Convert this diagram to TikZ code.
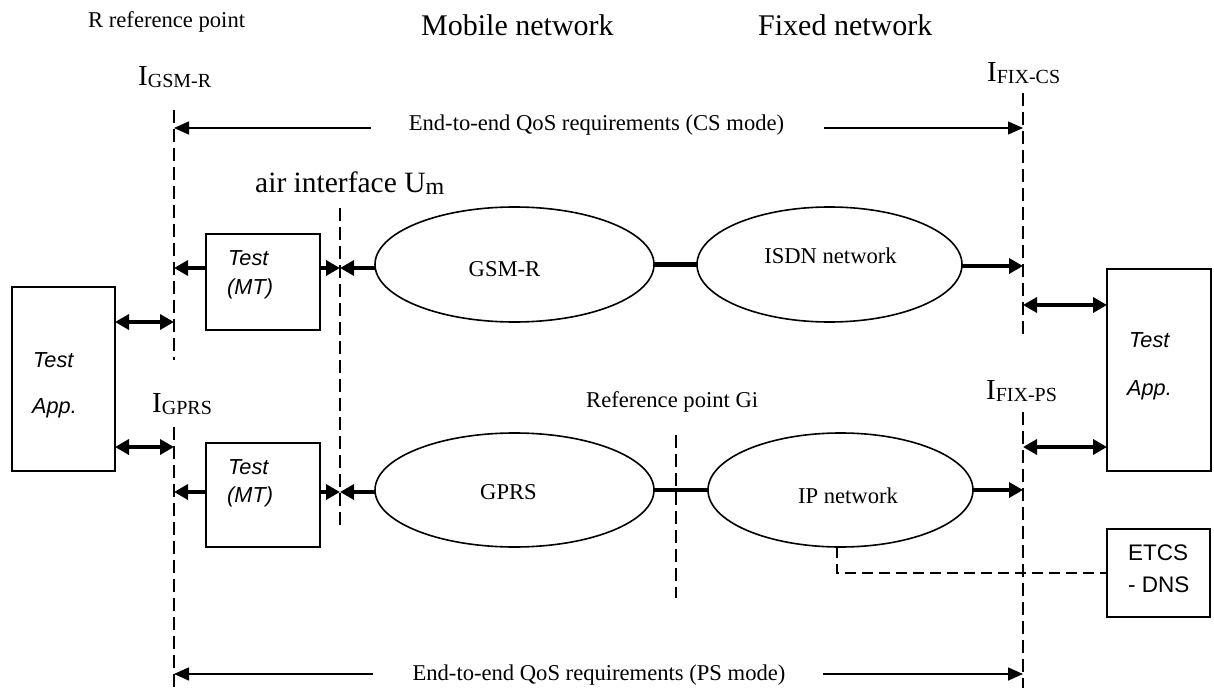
\documentclass[tikz,border=0pt]{standalone}
\usepackage{fontspec}
\setmainfont{Liberation Serif}
\setsansfont{Liberation Sans}
\usetikzlibrary{arrows.meta,shapes.geometric}
\newcommand{\ifacelabel}[1]{{\fontsize{29bp}{30bp}\selectfont I}\raisebox{-2bp}{\fontsize{20bp}{24bp}\selectfont #1}}
\begin{document}
\begin{tikzpicture}[x=1bp,y=-1bp,
  refline/.style={line width=1.4bp, dash pattern=on 13bp off 6bp},
  linkdash/.style={line width=2.2bp, dash pattern=on 11bp off 6bp},
  box/.style={draw, line width=1.7bp, rectangle, inner sep=0pt, outer sep=0pt},
  net/.style={draw, ellipse, line width=1.6bp, inner sep=0pt, outer sep=0pt},
  netlabel/.style={font=\fontsize{22.6bp}{27bp}\selectfont, inner sep=0pt},
  bigarrow/.style={line width=4.5bp, -{Triangle[length=14bp,width=15bp]}},
  bigdouble/.style={line width=4.5bp, {Triangle[length=14bp,width=15bp]}-{Triangle[length=14bp,width=15bp]}},
  thinarrow/.style={line width=1.6bp, -{Triangle[length=15bp,width=13bp]}},
  link/.style={line width=4.5bp},
  serif/.style={font=\fontsize{22.6bp}{27bp}\selectfont, inner sep=0pt},
  bigserif/.style={font=\fontsize{30bp}{36bp}\selectfont, inner sep=0pt, anchor=base west},
  sansit/.style={font=\fontsize{21.7bp}{26bp}\selectfont\sffamily\itshape, inner sep=0pt, anchor=base west},
  sansup/.style={font=\fontsize{22.5bp}{27bp}\selectfont\sffamily, inner sep=0pt, anchor=base west},
  iface/.style={inner sep=0pt, anchor=base west}
]
\fill[white] (0,0) rectangle (1214,688);
\useasboundingbox (0,0) rectangle (1214,688);

% ---- headings
\node[serif, anchor=base west] (rref) at (88,28) {R reference point};
\node[bigserif] (mobile) at (421,36) {Mobile network};
\node[bigserif] (fixed) at (758,36) {Fixed network};

% ---- interface labels
\node[iface] (lgsm) at (138,86) {\ifacelabel{GSM-R}};
\node[iface] (lgprs) at (152,412) {\ifacelabel{GPRS}};
\node[iface] (lfcs) at (987,82) {\ifacelabel{FIX-CS}};
\node[iface] (lfps) at (986,399) {\ifacelabel{FIX-PS}};
\node[iface] (lair) at (255,193) {\fontsize{29.5bp}{34bp}\selectfont air interface U\raisebox{-2bp}{\fontsize{24bp}{28bp}\selectfont m}};
\node[serif, anchor=base west] (lgi) at (586,407) {Reference point Gi};

% ---- reference (dashed) lines
\coordinate (gsmT) at (174,110);  \coordinate (gsmB) at (174,360);
\coordinate (gprT) at (174,427);  \coordinate (gprB) at (174,688);
\coordinate (airT) at (340,208);  \coordinate (airB) at (340,527);
\coordinate (giT) at (676,435);   \coordinate (giB) at (676,598);
\coordinate (fcsT) at (1023,93);  \coordinate (fcsB) at (1023,336);
\coordinate (fpsT) at (1023,412); \coordinate (fpsB) at (1023,688);
\draw[refline] (gsmT) -- (gsmB);
\draw[refline] (gprT) -- (gprB);
\draw[refline] (airT) -- (airB);
\draw[refline] (giT) -- (giB);
\draw[refline] (fcsT) -- (fcsB);
\draw[refline] (fpsT) -- (fpsB);

% ---- boxes
\node[box, minimum width=103bp, minimum height=184bp] (appL) at (63.5,379) {};
\node[box, minimum width=114bp, minimum height=96bp] (mt1) at (263,282) {};
\node[box, minimum width=114bp, minimum height=104bp] (mt2) at (263,495) {};
\node[box, minimum width=104bp, minimum height=202bp] (appR) at (1159,370) {};
\node[box, minimum width=103bp, minimum height=88bp] (etcs) at (1158.5,573) {};

\node[sansit] (appLt) at (33,367) {Test};
\node[sansit] (appLa) at (32,413) {App.};
\node[sansit] (mt1t) at (228,265) {Test};
\node[sansit] (mt1m) at (227,294) {(MT)};
\node[sansit] (mt2t) at (228,474) {Test};
\node[sansit] (mt2m) at (227,502) {(MT)};
\node[sansit] (appRt) at (1129,347) {Test};
\node[sansit] (appRa) at (1127,395) {App.};
\node[sansup] (etcst) at (1128,560) {ETCS};
\node[sansup] (etcsd) at (1128,592) {- DNS};

% ---- networks
\node[net, minimum width=279bp, minimum height=115bp] (gsmr) at (514.5,264.5) {};
\node[net, minimum width=265bp, minimum height=115bp] (isdn) at (829.5,264.5) {};
\node[net, minimum width=279bp, minimum height=114bp] (gprs) at (514.5,490) {};
\node[net, minimum width=265bp, minimum height=114bp] (ip) at (840.5,490) {};
\node[netlabel, anchor=base] (gsmrt) at (504.5,276) {GSM-R};
\node[netlabel, anchor=base] (isdnt) at (830.5,263) {ISDN network};
\node[netlabel, anchor=base] (gprst) at (508.5,499) {GPRS};
\node[netlabel, anchor=base] (ipt) at (848,503) {IP network};

% ---- arrow end points on reference lines
\coordinate (gsmA) at (174,268);
\coordinate (airA) at (340,268);
\coordinate (gsmD) at (174,322);
\coordinate (gprD) at (174,447);
\coordinate (gprA) at (174,492);
\coordinate (airC) at (340,492);
\coordinate (fcsA) at (1023,266);
\coordinate (fcsD) at (1023,305);
\coordinate (fpsD) at (1023,447);
\coordinate (fpsA) at (1023,490);

% ---- thick connectors
\draw[bigdouble] (appL.east |- gsmD) -- (gsmD);
\draw[bigdouble] (appL.east |- gprD) -- (gprD);
\draw[bigarrow] (mt1.west |- gsmA) -- (gsmA);
\draw[bigarrow] (mt1.east |- airA) -- (airA);
\draw[bigarrow] (gsmr.west |- airA) -- (airA);
\draw[bigarrow] (mt2.west |- gprA) -- (gprA);
\draw[bigarrow] (mt2.east |- airC) -- (airC);
\draw[bigarrow] (gprs.west |- airC) -- (airC);
\draw[link] (gsmr.east) -- (isdn.west);
\draw[link] (gprs.east) -- (ip.west);
\draw[bigarrow] (isdn.east |- fcsA) -- (fcsA);
\draw[bigarrow] (ip.east |- fpsA) -- (fpsA);
\draw[bigdouble] (fcsD) -- (appR.west |- fcsD);
\draw[bigdouble] (fpsD) -- (appR.west |- fpsD);
\draw[linkdash] ([xshift=-3.5bp]ip.south) |- (etcs.west);

% ---- end-to-end QoS
\node[serif, anchor=base] (cs) at (596.5,131) {End-to-end QoS requirements (CS mode)};
\node[serif, anchor=base] (ps) at (599,680) {End-to-end QoS requirements (PS mode)};
\coordinate (csL) at (174,128); \coordinate (csR) at (1023,128);
\coordinate (psL) at (174,674); \coordinate (psR) at (1023,674);
\draw[thinarrow] ([xshift=-38bp]cs.west |- csL) -- (csL);
\draw[thinarrow] ([xshift=40bp]cs.east |- csR) -- (csR);
\draw[thinarrow] ([xshift=-39bp]ps.west |- psL) -- (psL);
\draw[thinarrow] ([xshift=37bp]ps.east |- psR) -- (psR);
\end{tikzpicture}
\end{document}
